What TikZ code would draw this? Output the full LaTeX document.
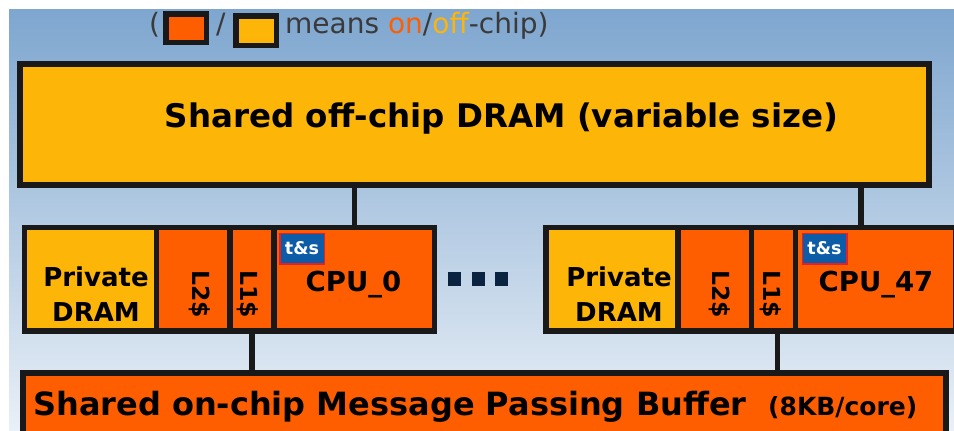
\documentclass[tikz,border=0pt]{standalone}
\usepackage{fontspec}
\setmainfont{DejaVu Sans}
\usetikzlibrary{positioning,calc}
\definecolor{onchip}{RGB}{255,94,0}
\definecolor{offchip}{RGB}{253,181,8}
\definecolor{bgtop}{RGB}{126,166,207}
\definecolor{bgbot}{RGB}{234,240,247}
\definecolor{tsblue}{RGB}{12,92,168}
\definecolor{tsred}{RGB}{230,30,40}
\definecolor{dotnavy}{RGB}{10,35,64}
\definecolor{legendgray}{RGB}{58,58,58}
\begin{document}
\begin{tikzpicture}[x=1pt,y=-1pt,
    box/.style={draw=black!90,line width=5.5pt,inner sep=0pt,outer sep=0pt},
    on/.style={box,fill=onchip},
    off/.style={box,fill=offchip},
    cell/.style={minimum height=103.5pt},
    wire/.style={draw=black!90,line width=5.5pt},
    txt/.style={font=\bfseries\fontsize{#1}{#1}\selectfont,inner sep=0pt,anchor=base},
    legend/.style={font=\fontsize{28}{28}\selectfont,text=legendgray,inner sep=0pt,anchor=base west},
    tas/.style={draw=tsred,line width=1.5pt,fill=tsblue,text=white,
      font=\bfseries\fontsize{17.5}{17.5}\selectfont,
      minimum width=44.5pt,minimum height=30.5pt,inner sep=0pt,anchor=north west}]
    % background
    \fill[white] (0,0) rectangle (954,431);
    \shade[top color=bgtop,bottom color=bgbot] (9,9) rectangle (954,431);
    \useasboundingbox (0,0) rectangle (954,431);

    % legend
    \node[legend] (lpar) at (149,34) {(};
    \node[on,minimum width=40.5pt,minimum height=28.5pt] (onsq) at (186,28) {};
    \node[legend] (slash) at (216,34) {/};
    \node[off,minimum width=40.5pt,minimum height=29.5pt] (offsq) at (256,30.5) {};
    \node[legend] (means) at (285,34)
      {means \textcolor{onchip}{on}/\textcolor{offchip}{off}-chip)};

    % shared DRAM
    \node[off,minimum width=909pt,minimum height=121pt] (dram) at (474.5,124.5) {};
    \node[txt=32.5] (dramtxt) at (501.5,127) {Shared off-chip DRAM (variable size)};

    % core 0
    \node[off,cell,minimum width=132pt,anchor=north west] (pdramA) at (24.5,227.5) {};
    \node[on,cell,minimum width=73.5pt,right=0pt of pdramA] (l2A) {};
    \node[on,cell,minimum width=44pt,right=0pt of l2A] (l1A) {};
    \node[on,cell,minimum width=160.5pt,right=0pt of l1A] (cpuA) {};
    \node[txt=26,align=center,font=\bfseries\fontsize{26}{35}\selectfont] (pdtxtA) at (96,321) {Private\\DRAM};
    \node[txt=23.5,rotate=-90] (l2txtA) at (192,294) {L2\$};
    \node[txt=23.5,rotate=-90] (l1txtA) at (240,294) {L1\$};
    \node[txt=27.5] (cputxtA) at (353.5,291) {CPU\_0};
    \node[tas] (tasA) at ($(cpuA.north west)+(5,5)$) {t\&s};

    % dots
    \foreach \x in {448,472,495}
      \fill[dotnavy] (\x,272) rectangle ++(13,14);

    % core 47
    \node[off,cell,minimum width=132pt,anchor=north west] (pdramB) at (546,227.5) {};
    \node[on,cell,minimum width=73.5pt,right=0pt of pdramB] (l2B) {};
    \node[on,cell,minimum width=44pt,right=0pt of l2B] (l1B) {};
    \node[on,cell,minimum width=160.5pt,right=0pt of l1B] (cpuB) {};
    \node[txt=26,align=center,font=\bfseries\fontsize{26}{35}\selectfont] (pdtxtB) at (619,321) {Private\\DRAM};
    \node[txt=23.5,rotate=-90] (l2txtB) at (712,294) {L2\$};
    \node[txt=23.5,rotate=-90] (l1txtB) at (763,294) {L1\$};
    \node[txt=27.5] (cputxtB) at (876,291) {CPU\_47};
    \node[tas] (tasB) at ($(cpuB.north west)+(6,5)$) {t\&s};

    % message passing buffer
    \node[on,minimum width=923pt,minimum height=100pt,anchor=north] (buf) at (484.5,373) {};
    \node[txt=32,anchor=base west] (buftxt) at (33,415) {Shared on-chip Message Passing Buffer};
    \node[txt=25,anchor=base west] (bufsize) at (768,415) {(8KB/core)};

    % links
    \coordinate (tapB) at ([xshift=-15pt]cpuB.north);
    \draw[wire] (cpuA.north) -- (cpuA.north |- dram.south);
    \draw[wire] (tapB) -- (tapB |- dram.south);
    \draw[wire] (l1A.south) -- (l1A.south |- buf.north);
    \draw[wire] ([xshift=4pt]l1B.south) -- ([xshift=4pt]l1B.south |- buf.north);
\end{tikzpicture}
\end{document}
